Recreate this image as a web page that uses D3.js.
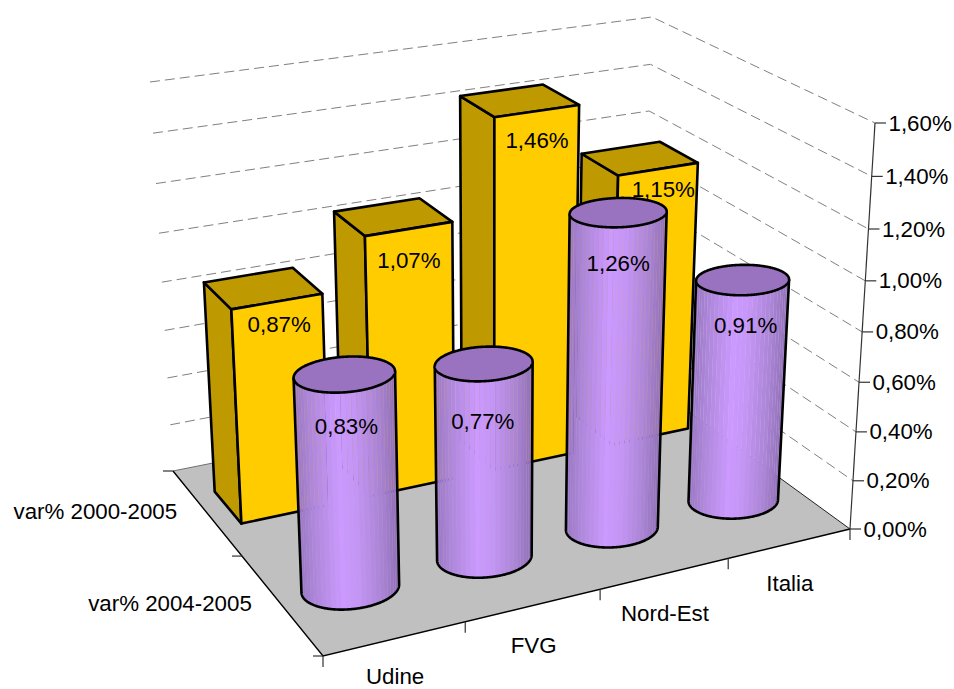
<!DOCTYPE html>
<html><head><meta charset="utf-8">
<script src="https://cdn.jsdelivr.net/npm/d3@7"></script>
<style>html,body{margin:0;background:#fff}svg{display:block}text{font-family:"Liberation Sans",Arial,sans-serif;font-size:22.3px;fill:#000}</style>
</head><body><svg id="c" width="954" height="689"></svg>
<script>
const categories = ["Udine","FVG","Nord-Est","Italia"];
const seriesNames = ["var% 2004-2005","var% 2000-2005"];
const valuesBack = [0.87,1.07,1.46,1.15];   // var% 2000-2005
const valuesFront = [0.83,0.77,1.26,0.91];  // var% 2004-2005
const tickValues = [0,0.2,0.4,0.6,0.8,1.0,1.2,1.4,1.6];

// projection frame (front, right, back, left) on floor and at the top of the value axis
const floorQuad = [[323,656],[850,529],[641,377],[173,471]];
const topQuad = [[308,212],[875,123],[652,17],[150,82]];
const persp = 1.06;
// small placement corrections for text, per category
const categoryLabelDy = [-2,1,0,0];
const backLabelNudge = [[0,1],[-2,10],[-2,8],[3,-1]];
const frontLabelNudge = [[1,5],[-2,10],[-1,4],[2,-2]];

function homography(q){
  const [[x0,y0],[x1,y1],[x2,y2],[x3,y3]]=q;
  const dx1=x1-x2,dx2=x3-x2,sx=x0-x1+x2-x3,dy1=y1-y2,dy2=y3-y2,sy=y0-y1+y2-y3;
  const d=dx1*dy2-dx2*dy1;
  const g=(sx*dy2-dx2*sy)/d,h=(dx1*sy-sx*dy1)/d;
  const a=x1-x0+g*x1,b=x3-x0+h*x3,c=x0,e=y1-y0+g*y1,f=y3-y0+h*y3;
  return (u,w)=>{const n=g*u+h*w+1;return [(a*u+b*w+c)/n,(e*u+f*w+y0)/n];};
}
const H0=homography(floorQuad),H1=homography(topQuad);
const xBand=d3.scaleBand().domain(categories).range([0,1]).paddingInner(.33).paddingOuter(.165);
const zBand=d3.scaleBand().domain(seriesNames).range([0,1]).paddingInner(.62).paddingOuter(.31);
const yVal=d3.scaleLinear().domain([0,1.6]).range([0,1]);
const P=(u,v,w)=>{
  const a=H0(u,w),b=H1(u,w),s=yVal(v),t=s/(s+persp*(1-s));
  return [a[0]+(b[0]-a[0])*t,a[1]+(b[1]-a[1])*t];
};
const svg=d3.select("#c");
const line=d3.line();
const poly=p=>line(p)+"Z";
const fmt=v=>d3.format(".2f")(v).replace(".",",")+"%";

// floor
svg.append("path").attr("d",poly([P(0,0,0),P(1,0,0),P(1,0,1),P(0,0,1)])).attr("fill","#c0c0c0");

// gridlines on the walls
const grid=svg.append("g").attr("fill","none").attr("stroke","#808080").attr("stroke-width",1).attr("stroke-dasharray","10 5");
tickValues.slice(1).forEach(v=>grid.append("path").attr("d",line([P(0,v,1),P(1,v,1),P(1,v,0)])));
svg.append("path").attr("d",line([P(0,0,1),P(1,0,1)])).attr("fill","none").attr("stroke","#707070");
svg.append("path").attr("d",line([P(1,0,1),P(1,0,0)])).attr("fill","none").attr("stroke","#222");
svg.append("path").attr("d",line([P(0,0,1),P(0,0,0),P(1,0,0)])).attr("fill","none").attr("stroke","#000").attr("stroke-width",1.4);

// value axis
const ax=svg.append("g").attr("stroke","#333").attr("stroke-width",1.2).attr("fill","none");
ax.append("path").attr("d",line([P(1,0,0),P(1,1.6,0)]));
tickValues.forEach(v=>{const p=P(1,v,0);
  ax.append("path").attr("d",line([p,[p[0]+11,p[1]]]));
  svg.append("text").attr("x",p[0]+13.5).attr("y",p[1]-.5).attr("dy","0.36em").text(fmt(v));
});
// category axis
const xEdges=d3.range(categories.length+1).map(i=>i/categories.length);
xEdges.forEach(u=>{const p=P(u,0,0);ax.append("path").attr("d",line([p,[p[0],p[1]+11]]));});
categories.forEach((c,i)=>{const p=P(xBand(c)+xBand.bandwidth()/2,0,0);
  svg.append("text").attr("x",p[0]).attr("y",p[1]+39+categoryLabelDy[i]).attr("dy","0.36em").attr("text-anchor","middle").text(c);});
// series axis
[0,.5,1].forEach(w=>{const p=P(0,0,w);ax.append("path").attr("d",line([p,[p[0]-10,p[1]]]));});
seriesNames.forEach(s=>{const p=P(0,0,zBand(s)+zBand.bandwidth()/2);
  svg.append("text").attr("x",p[0]-29).attr("y",p[1]-.5).attr("dy","0.36em").attr("text-anchor","end").text(s);});

const stroke={stroke:"#000","stroke-width":2.6,"stroke-linejoin":"round"};
const st=(s)=>{Object.entries(stroke).forEach(([k,v])=>s.attr(k,v));return s;};

// back row: boxes, far to near
const labels=[];
d3.range(categories.length).reverse().forEach(i=>{
  const c=categories[i],v=valuesBack[i];
  const x0=xBand(c),x1=x0+xBand.bandwidth(),z0=zBand(seriesNames[1]),z1=z0+zBand.bandwidth();
  const g=svg.append("g");
  st(g.append("path").attr("d",poly([P(x0,0,z0),P(x0,0,z1),P(x0,v,z1),P(x0,v,z0)])).attr("fill","#bf9900"));
  st(g.append("path").attr("d",poly([P(x0,v,z0),P(x0,v,z1),P(x1,v,z1),P(x1,v,z0)])).attr("fill","#bf9900"));
  st(g.append("path").attr("d",poly([P(x0,0,z0),P(x1,0,z0),P(x1,v,z0),P(x0,v,z0)])).attr("fill","#ffcc00"));
  const p=P(x0+xBand.bandwidth()/2,v,z0);
  labels.push([p[0]+2+backLabelNudge[i][0],p[1]+21+backLabelNudge[i][1],v]);
});

// front row: cylinders, far to near
const shade=d3.scaleLinear().domain([0,.12,.4,.55,.8,1]).range(["#9a78c4","#ac86d8","#cc99ff","#c596f6","#ab85d6","#8f6fb4"]);
const N=360;
d3.range(categories.length).reverse().forEach(i=>{
  const c=categories[i],v=valuesFront[i];
  const ru=xBand.bandwidth()/2,rw=zBand.bandwidth()/2;
  const cu=xBand(c)+ru,cw=zBand(seriesNames[0])+rw;
  const ring=h=>d3.range(N).map(k=>{const t=k/N*2*Math.PI;return P(cu+ru*Math.cos(t),h,cw+rw*Math.sin(t));});
  const bot=ring(0),top=ring(v);
  const iL=d3.minIndex(bot,p=>p[0]),iR=d3.maxIndex(bot,p=>p[0]);
  // walk the near half of the base from the left silhouette to the right one
  const walk=dir=>{const a=[];for(let k=iL;;k=(k+dir+N)%N){a.push(k);if(k===iR)break;}return a;};
  const fw=walk(1),bk=walk(-1);
  const near=d3.mean(fw,k=>bot[k][1])>d3.mean(bk,k=>bot[k][1])?fw:bk;
  const g=svg.append("g");
  const outline=[top[iL],...near.map(k=>bot[k]),top[iR]];
  g.append("path").attr("d",poly(outline)).attr("fill","#b48ce6").attr("opacity",.55);
  const step=Math.max(1,Math.round(near.length/30));
  const idx=near.filter((_,j)=>j%step===0);
  if(idx[idx.length-1]!==iR)idx.push(iR);
  d3.pairs(idx).forEach(([a,b],j)=>{
    g.append("path").attr("d",poly([bot[a],bot[b],top[b],top[a]])).attr("fill",shade((bot[a][0]-bot[iL][0])/(bot[iR][0]-bot[iL][0])));
  });
  st(g.append("path").attr("d",line(outline)).attr("fill","none"));
  st(g.append("path").attr("d",poly(top)).attr("fill","#9973bf"));
  const p=P(cu,v,cw);
  labels.push([p[0]+1+frontLabelNudge[i][0],p[1]+47+frontLabelNudge[i][1],v]);
});

labels.forEach(([x,y,v])=>svg.append("text").attr("x",x).attr("y",y).attr("dy","0.36em").attr("text-anchor","middle").text(fmt(v)));
</script></body></html>
